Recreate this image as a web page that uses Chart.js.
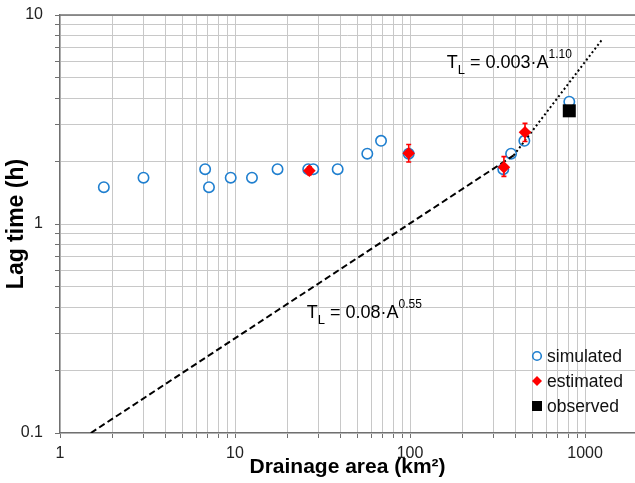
<!DOCTYPE html>
<html><head><meta charset="utf-8">
<script src="https://cdn.jsdelivr.net/npm/chart.js@4.4.0/dist/chart.umd.min.js"></script>
<style>html,body{margin:0;padding:0;background:#fff;overflow:hidden}#wrap{width:635px;height:483px;position:relative}</style>
</head><body><div id="wrap"><canvas id="c" width="635" height="483"></canvas></div>
<script>
// ---- data ----
const simArea = [1.78, 3.0, 6.75, 7.1, 9.45, 12.5, 17.5, 26.2, 28.0, 38.6, 57.0, 68.3, 98.3, 341, 378, 450, 813];
const simLag  = [1.50, 1.665, 1.83, 1.50, 1.665, 1.665, 1.83, 1.83, 1.83, 1.83, 2.17, 2.50, 2.17, 1.83, 2.17, 2.50, 3.85];
const estArea = [26.6, 98.3, 344, 454];
const estLag  = [1.80, 2.18, 1.87, 2.75];
const estLow  = [1.72, 1.98, 1.69, 2.48];
const estHigh = [1.88, 2.40, 2.10, 3.03];
const obsArea = [813];
const obsLag  = [3.48];
const fitLowArea  = [1.5, 391];
const fitLowLag   = [0.1, 2.13];
const fitHighArea = [391, 1255];
const fitHighLag  = [2.13, 7.65];
const xGridValues = [1,2,3,4,5,6,7,8,9,10,20,30,40,50,60,70,80,90,100,200,300,400,500,600,700,800,900,1000];
const yGridValues = [0.1,0.2,0.3,0.4,0.5,0.6,0.7,0.8,0.9,1,2,3,4,5,6,7,8,9,10];
const xTickLabels = ['1','10','100','1000'];
const yTickLabels = ['0.1','1','10'];
const seriesNames = ['simulated','estimated','observed'];
const eqHigh = ['T','L',' = 0.003·A','1.10'];
const eqLow  = ['T','L',' = 0.08·A','0.55'];
const eqHighAnchor = [162, 5.56];
const eqLowAnchor  = [25.7, 0.354];

const FONT = "'Liberation Sans', Arial, sans-serif";
const BLUE = '#1f7fcf', RED = '#ff0000', AXIS = '#707070', GRID = '#c8c8c8';

const pts = (xs, ys) => xs.map((x, i) => ({x, y: ys[i]}));

function drawEq(ctx, x, y, parts) {
  const sizes = [18, 13, 18, 12];
  const dys = [0, 6, 0, -10];
  ctx.save();
  ctx.fillStyle = '#000';
  ctx.textBaseline = 'alphabetic';
  ctx.textAlign = 'left';
  let cx = x;
  parts.forEach((t, i) => {
    ctx.font = sizes[i] + 'px ' + FONT;
    ctx.fillText(t, cx, y + dys[i]);
    cx += ctx.measureText(t).width;
  });
  ctx.restore();
}

function noPad(s) { s.paddingLeft = 0; s.paddingRight = 0; s.paddingTop = 0; s.paddingBottom = 0; }

const extras = {
  id: 'extras',
  beforeDatasetDraw(chart, args) {
    if (args.index !== 1) return;
    const {ctx, scales: {x, y}} = chart;
    ctx.save();
    ctx.strokeStyle = RED; ctx.lineWidth = 1.6;
    estArea.forEach((a, i) => {
      const px = x.getPixelForValue(a);
      const p1 = y.getPixelForValue(estLow[i]);
      const p2 = y.getPixelForValue(estHigh[i]);
      ctx.beginPath();
      ctx.moveTo(px, p1); ctx.lineTo(px, p2);
      ctx.moveTo(px - 2.5, p1); ctx.lineTo(px + 2.5, p1);
      ctx.moveTo(px - 2.5, p2); ctx.lineTo(px + 2.5, p2);
      ctx.stroke();
    });
    ctx.restore();
  },
  afterDraw(chart) {
    const {ctx, chartArea: ca, scales: {x, y}} = chart;
    ctx.save();
    ctx.strokeStyle = AXIS; ctx.lineWidth = 1.3;
    ctx.beginPath(); ctx.moveTo(ca.left, ca.top); ctx.lineTo(ca.right, ca.top); ctx.stroke();
    ctx.restore();
    drawEq(ctx, x.getPixelForValue(eqHighAnchor[0]), y.getPixelForValue(eqHighAnchor[1]), eqHigh);
    drawEq(ctx, x.getPixelForValue(eqLowAnchor[0]), y.getPixelForValue(eqLowAnchor[1]), eqLow);
    const mx = ca.right - 98, tx = ca.right - 88;
    const ys = [ca.bottom - 77, ca.bottom - 52, ca.bottom - 27];
    ctx.save();
    ctx.beginPath(); ctx.arc(mx, ys[0], 4.3, 0, Math.PI * 2);
    ctx.fillStyle = '#fff'; ctx.fill();
    ctx.strokeStyle = BLUE; ctx.lineWidth = 1.6; ctx.stroke();
    ctx.beginPath();
    ctx.moveTo(mx - 5, ys[1]); ctx.lineTo(mx, ys[1] - 5); ctx.lineTo(mx + 5, ys[1]); ctx.lineTo(mx, ys[1] + 5);
    ctx.closePath(); ctx.fillStyle = RED; ctx.fill();
    ctx.fillStyle = '#000'; ctx.fillRect(mx - 5, ys[2] - 5, 10, 10);
    ctx.font = '17.5px ' + FONT; ctx.fillStyle = '#111';
    ctx.textBaseline = 'middle'; ctx.textAlign = 'left';
    seriesNames.forEach((n, i) => ctx.fillText(n, tx, ys[i] + 1));
    ctx.restore();
  }
};

new Chart(document.getElementById('c'), {
  type: 'scatter',
  data: {
    datasets: [
      { label: seriesNames[2], data: pts(obsArea, obsLag), pointStyle: 'rect', pointRadius: 9.2,
        backgroundColor: '#000', borderColor: '#000', borderWidth: 0, order: 0 },
      { label: seriesNames[1], data: pts(estArea, estLag), pointStyle: 'rectRot', pointRadius: 6.3,
        backgroundColor: RED, borderColor: RED, borderWidth: 0, order: 1 },
      { label: 'fit high', data: pts(fitHighArea, fitHighLag), showLine: true, pointRadius: 0,
        borderColor: '#000', borderWidth: 2, borderDash: [2, 2.6], order: 2 },
      { label: 'fit low', data: pts(fitLowArea, fitLowLag), showLine: true, pointRadius: 0,
        borderColor: '#000', borderWidth: 2, borderDash: [6.5, 3.5], order: 2 },
      { label: seriesNames[0], data: pts(simArea, simLag), pointStyle: 'circle', pointRadius: 5.2,
        backgroundColor: '#fff', borderColor: BLUE, borderWidth: 1.6, order: 3 }
    ]
  },
  options: {
    responsive: false, animation: false, events: [],
    layout: { autoPadding: false, padding: { top: 15, right: 0, bottom: 0, left: 0 } },
    plugins: { legend: { display: false }, tooltip: { enabled: false } },
    scales: {
      x: {
        type: 'logarithmic', min: 1, max: 1930,
        afterBuildTicks: s => { s.ticks = xGridValues.map(v => ({value: v})); },
        afterFit: s => { s.height = 50; noPad(s); },
        grid: { color: GRID, lineWidth: 1, tickColor: AXIS, tickLength: 5, drawTicks: true },
        border: { color: AXIS, width: 1.3 },
        ticks: { autoSkip: false, maxRotation: 0, padding: 6, color: '#222',
          font: { family: FONT, size: 16 },
          callback: v => xTickLabels.includes(String(v)) ? String(v) : '' },
        title: { display: true, text: 'Drainage area (km²)', color: '#000',
          font: { family: FONT, size: 21, weight: 'bold' }, padding: { top: 0, bottom: 3 } }
      },
      y: {
        type: 'logarithmic', min: 0.1, max: 10,
        afterBuildTicks: s => { s.ticks = yGridValues.map(v => ({value: v})); },
        afterFit: s => { s.width = 60; noPad(s); },
        grid: { color: GRID, lineWidth: 1, tickColor: AXIS, tickLength: 5, drawTicks: true },
        border: { color: AXIS, width: 1.3 },
        ticks: { autoSkip: false, padding: 12, color: '#222',
          font: { family: FONT, size: 16 },
          callback: v => yTickLabels.includes(String(v)) ? String(v) : '' },
        title: { display: true, text: 'Lag time (h)', color: '#000',
          font: { family: FONT, size: 23, weight: 'bold' }, padding: { top: 2.5, bottom: 0 } }
      }
    }
  },
  plugins: [extras]
});
</script></body></html>
